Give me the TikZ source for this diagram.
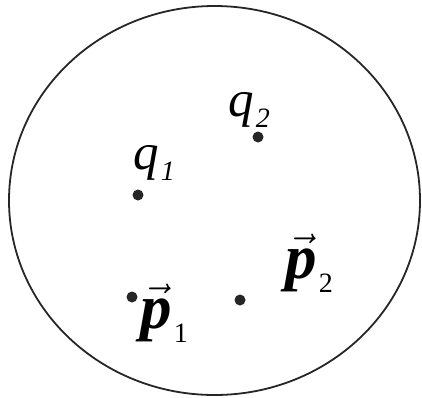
\documentclass[tikz,border=0pt]{standalone}
\usepackage{fontspec}
\setmainfont{Liberation Serif}
\usetikzlibrary{positioning}

% charge and momentum labels
\newcommand{\chargename}[1]{\textit{q}\kern1pt\raisebox{-5.5pt}{\fontsize{14}{15}\selectfont\textit{#1}}}
\newcommand{\momname}[1]{$\vec{\mbox{\bfseries\itshape p}}$\kern1pt\raisebox{-7pt}{\fontsize{14}{15}\selectfont #1}}

\begin{document}
\begin{tikzpicture}[
    x=0.5pt, y=-0.5pt,
    % region boundary
    region/.style={
        draw=black!85,
        line width=0.9pt
    },
    % point in the region
    pointdot/.style={
        circle,
        fill=black!85,
        inner sep=0pt,
        minimum size=5.5pt
    },
    % text of a point
    qtext/.style={
        anchor=base west,
        inner sep=0pt,
        font=\fontsize{25.5}{30}\selectfont
    },
    ptext/.style={
        anchor=base west,
        inner sep=0pt,
        font=\fontsize{31.5}{36}\selectfont
    }
]
    \useasboundingbox (0,0) rectangle (422,397);

    % --- region ---
    \draw[region] (214.5,200.5) ellipse [x radius=205.5, y radius=194.5];

    % --- points ---
    \node[pointdot] (q2dot) at (258,137) {};
    \node[pointdot] (q1dot) at (138,195) {};
    \node[pointdot] (p1dot) at (132,297) {};
    \node[pointdot] (p2dot) at (240,300) {};

    % --- labels ---
    \node[qtext] (q2) at (228,116) {\chargename{2}};
    \node[qtext] (q1) at (133,169) {\chargename{1}};
    \node[ptext] (p1) at (140,328) {\momname{1}};
    \node[ptext] (p2) at (285,278) {\momname{2}};

\end{tikzpicture}
\end{document}
